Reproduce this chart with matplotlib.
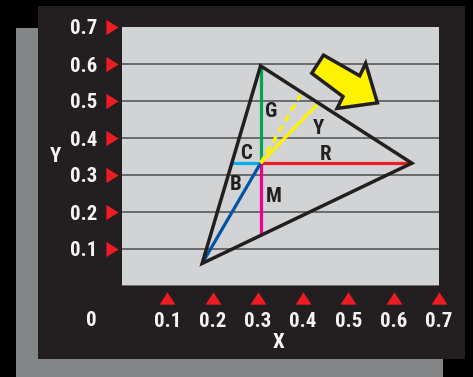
import numpy as np
import matplotlib
matplotlib.use("Agg")
import matplotlib.pyplot as plt
from matplotlib.patches import Rectangle, Polygon
from matplotlib.transforms import blended_transform_factory
from matplotlib.path import Path
from matplotlib import font_manager

# ---- data ----
x_ticks = [0.1, 0.2, 0.3, 0.4, 0.5, 0.6, 0.7]
y_ticks = [0.1, 0.2, 0.3, 0.4, 0.5, 0.6, 0.7]
tick_labels = ["0.1", "0.2", "0.3", "0.4", "0.5", "0.6", "0.7"]
grid_levels = [0.0, 0.1, 0.2, 0.3, 0.4, 0.5, 0.6]

primary_names = ["G", "R", "B"]
primary_x = [0.306, 0.640, 0.177]
primary_y = [0.595, 0.332, 0.061]

white_x, white_y = 0.306, 0.332

ray_names = ["G", "R", "C", "M", "B", "Y"]
ray_end_x = [0.306, 0.640, 0.243, 0.306, 0.177, 0.432]
ray_end_y = [0.595, 0.332, 0.332, 0.138, 0.061, 0.492]
ray_colors = ["#00a651", "#ed1c24", "#00aeef", "#ec008c", "#0054a6", "#fff200"]

dashed_end_x, dashed_end_y = 0.394, 0.516

label_names = ["G", "Y", "C", "R", "B", "M"]
label_x = [0.329, 0.434, 0.275, 0.449, 0.251, 0.336]
label_y = [0.471, 0.426, 0.359, 0.356, 0.273, 0.243]

arrow_x = [0.445, 0.525, 0.538, 0.564, 0.475, 0.488, 0.419]
arrow_y = [0.624, 0.568, 0.602, 0.495, 0.480, 0.512, 0.575]

# ---- style ----
W, H = 473, 377
DPI = 100
names = {f.name for f in font_manager.fontManager.ttflist}
FONT = [f for f in ["Liberation Sans Narrow", "Roboto Condensed",
                    "Open Sans Condensed", "DejaVu Sans"] if f in names] or ["DejaVu Sans"]
plt.rcParams["font.family"] = FONT

fig = plt.figure(figsize=(W / DPI, H / DPI), dpi=DPI, facecolor="black")

def fr(x0, y0, x1, y1):
    # pixel box (top-left origin) to figure fraction rect
    return (x0 / W, 1 - y1 / H, (x1 - x0) / W, (y1 - y0) / H)

# background panels
l, b, w, h = fr(16, 28, 443, 380)
fig.patches.append(Rectangle((l, b), w, h, transform=fig.transFigure,
                             facecolor="#848587", edgecolor="none", zorder=-3))
l, b, w, h = fr(38, 6, 465, 359)
fig.patches.append(Rectangle((l, b), w, h, transform=fig.transFigure,
                             facecolor="#231f20", edgecolor="none", zorder=-2))

ax = fig.add_axes(fr(122, 27, 439, 286))
ax.set_zorder(2)
ax.set_facecolor("#d1d3d4")
ax.set_xlim(0, 0.7)
ax.set_ylim(0, 0.7)
for s in ax.spines.values():
    s.set_visible(False)

for g in grid_levels:
    ax.axhline(g, color="#58595b", lw=1.2, zorder=1)

FS = 15
txt_kw = dict(color="#f4f4f4", fontsize=FS, fontweight="bold")
ax.set_xticks(x_ticks)
ax.set_xticklabels(tick_labels, **txt_kw)
ax.set_yticks(y_ticks)
ax.set_yticklabels(tick_labels, **txt_kw)
ax.tick_params(axis="x", length=0, pad=19)
ax.tick_params(axis="y", length=0, pad=18)

# red triangle tick markers
tri_right = Path([(-0.8, 1), (0.8, 0), (-0.8, -1), (-0.8, 1)])
tri_up = Path([(-1, -0.77), (1, -0.77), (0, 0.77), (-1, -0.77)])
ty = blended_transform_factory(ax.transAxes, ax.transData)
tx = blended_transform_factory(ax.transData, ax.transAxes)
ax.plot(np.full(len(y_ticks), -0.0315), y_ticks, ls="none", marker=tri_right,
        ms=11, color="#ed1c24", mec="none", transform=ty, clip_on=False)
ax.plot(x_ticks, np.full(len(x_ticks), -0.047), ls="none", marker=tri_up,
        ms=11.5, color="#ed1c24", mec="none", transform=tx, clip_on=False)

fig.text(91 / W, 1 - 320 / H, "0", ha="center", va="center", **txt_kw)
fig.text(279 / W, 1 - 343 / H, "X", ha="center", va="center", **txt_kw)
fig.text(55 / W, 1 - 157 / H, "Y", ha="center", va="center", **txt_kw)

# rays from white point
for ex, ey, c in zip(ray_end_x, ray_end_y, ray_colors):
    ax.plot([white_x, ex], [white_y, ey], color=c, lw=2.3, zorder=3,
            solid_capstyle="butt")
ax.plot([white_x, dashed_end_x], [white_y, dashed_end_y], color="#fff200",
        lw=2.3, ls=(0, (2.2, 1.6)), zorder=3, dash_capstyle="butt")

# gamut triangle
ax.add_patch(Polygon(np.column_stack([primary_x, primary_y]), closed=True,
                     fill=False, edgecolor="#231f20", lw=2.5, zorder=4,
                     joinstyle="miter"))

# labels
for n, x, y in zip(label_names, label_x, label_y):
    ax.text(x, y, n, color="#231f20", fontsize=FS, fontweight="bold",
            ha="center", va="center", zorder=5)

# arrow
ax.add_patch(Polygon(np.column_stack([arrow_x, arrow_y]), closed=True,
                     facecolor="#fff200", edgecolor="#231f20", lw=2.5,
                     zorder=6, joinstyle="miter", clip_on=False))

fig.savefig("out.png", dpi=DPI, facecolor="black")
